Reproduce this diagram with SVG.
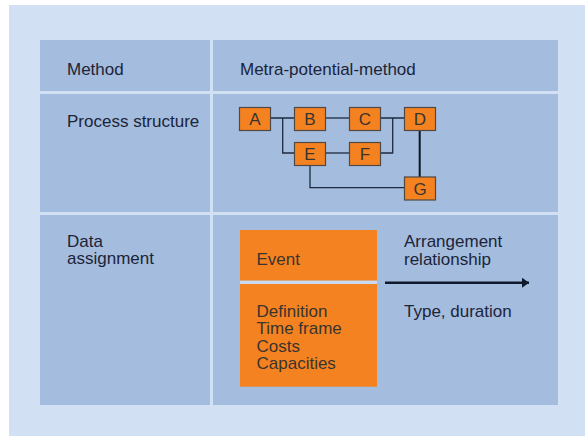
<svg xmlns="http://www.w3.org/2000/svg" width="585" height="436" viewBox="0 0 585 436">
<defs>
<style>
.t{font-family:"Liberation Sans",Arial,sans-serif;font-size:17px;fill:#1c2438}
.o{font-family:"Liberation Sans",Arial,sans-serif;font-size:17px;fill:#3a342f}
.cell{fill:#a4bcde}
.node rect{fill:#f58220;stroke:#4f4a45;stroke-width:1.2}
.node text{font-family:"Liberation Sans",Arial,sans-serif;font-size:17px;fill:#3a342f;text-anchor:middle}
.c{stroke:#1e2a40;stroke-width:1.3;fill:none}
</style>
<marker id="ah" markerWidth="8" markerHeight="10" refX="7" refY="5" orient="auto" markerUnits="userSpaceOnUse">
<path d="M0,0 L7,5 L0,10 Z" fill="#111a2c"/>
</marker>
</defs>
<rect x="9" y="5" width="576" height="431" fill="#d1e1f3"/>
<g id="table">
<rect class="cell" x="40" y="40" width="170" height="51"/>
<rect class="cell" x="213" y="40" width="345" height="51"/>
<rect class="cell" x="40" y="94" width="170" height="118"/>
<rect class="cell" x="213" y="94" width="345" height="118"/>
<rect class="cell" x="40" y="215" width="170" height="190"/>
<rect class="cell" x="213" y="215" width="345" height="190"/>
</g>
<g id="labels">
<text class="t" x="67" y="75">Method</text>
<text class="t" x="240" y="75">Metra-potential-method</text>
<text class="t" x="67" y="127">Process structure</text>
<text class="t" x="67" y="247">Data</text>
<text class="t" x="67" y="264.3">assignment</text>
</g>
<g id="connectors">
<path class="c" d="M271,118 H294 M282.7,118 V153 H294"/>
<path class="c" d="M326,118 H349"/>
<path class="c" d="M380,118 H404 M392.7,118 V153 H380"/>
<path class="c" d="M326,153 H349"/>
<path class="c" d="M310,166 V187.7 H404"/>
<path d="M419.7,131 V177" stroke="#0d1320" stroke-width="2" fill="none"/>
<path d="M385,282.7 H529" stroke="#111a2c" stroke-width="2.6" fill="none" marker-end="url(#ah)"/>
</g>
<g id="node-A" class="node"><rect x="239.5" y="107.5" width="31" height="23"/><text x="255" y="125">A</text></g>
<g id="node-B" class="node"><rect x="294.5" y="107.5" width="31" height="23"/><text x="310" y="125">B</text></g>
<g id="node-C" class="node"><rect x="349.5" y="107.5" width="31" height="23"/><text x="365" y="125">C</text></g>
<g id="node-D" class="node"><rect x="404.5" y="107.5" width="31" height="23"/><text x="420" y="125">D</text></g>
<g id="node-E" class="node"><rect x="294.5" y="142.5" width="31" height="23"/><text x="310" y="160">E</text></g>
<g id="node-F" class="node"><rect x="349.5" y="142.5" width="31" height="23"/><text x="365" y="160">F</text></g>
<g id="node-G" class="node"><rect x="404.5" y="177" width="31" height="23"/><text x="420" y="194.5">G</text></g>
<g id="event">
<rect x="240" y="230" width="137" height="50.7" fill="#f58220"/>
<rect x="240" y="280.7" width="137" height="3.3" fill="#c9daee"/>
<text class="o" x="256.5" y="265">Event</text>
</g>
<g id="event-details">
<rect x="240" y="284" width="137" height="102.7" fill="#f58220"/>
<text class="o" x="256.5" y="316.7">Definition</text>
<text class="o" x="256.5" y="334">Time frame</text>
<text class="o" x="256.5" y="351.5">Costs</text>
<text class="o" x="256.5" y="369">Capacities</text>
</g>
<g id="relationship">
<text class="t" x="404" y="246.8">Arrangement</text>
<text class="t" x="404" y="265">relationship</text>
<text class="t" x="404" y="316.7">Type, duration</text>
</g>
</svg>
